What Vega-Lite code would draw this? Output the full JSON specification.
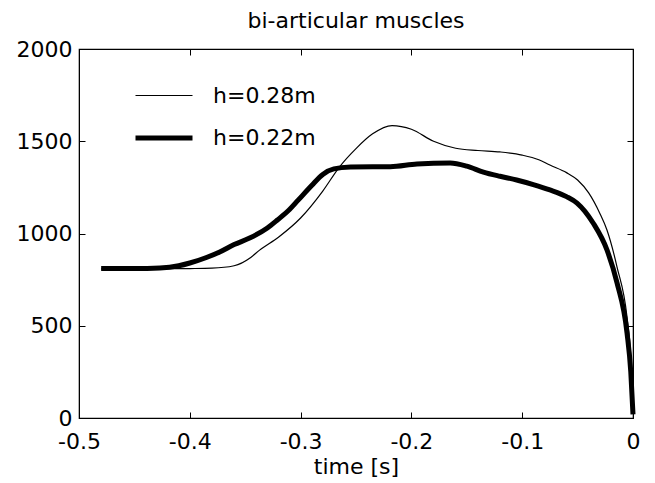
{
  "$schema": "https://vega.github.io/schema/vega-lite/v6.json",
  "autosize": "none",
  "width": 554,
  "height": 369,
  "padding": {"left": 79, "top": 49, "right": 22, "bottom": 65},
  "background": "white",
  "config": {
    "font": "DejaVu Sans",
    "view": {"stroke": "black", "strokeWidth": 1.2},
    "axis": {
      "grid": false,
      "domainColor": "black",
      "tickColor": "black",
      "labelColor": "black",
      "titleColor": "black",
      "labelFont": "DejaVu Sans",
      "titleFont": "DejaVu Sans",
      "labelFontSize": 22,
      "titleFontSize": 22,
      "titleFontWeight": "normal",
      "labelFlush": false,
      "labelOverlap": false,
      "tickSize": -6
    }
  },
  "title": {"text": "bi-articular muscles", "fontSize": 22, "fontWeight": "normal", "font": "DejaVu Sans", "color": "black", "anchor": "middle", "offset": 5},
  "data": {"values": [
    {"t": -0.48, "v": 808, "series": "h=0.28m"},
    {"t": -0.45, "v": 808, "series": "h=0.28m"},
    {"t": -0.42, "v": 809, "series": "h=0.28m"},
    {"t": -0.40, "v": 810, "series": "h=0.28m"},
    {"t": -0.38, "v": 812, "series": "h=0.28m"},
    {"t": -0.36, "v": 825, "series": "h=0.28m"},
    {"t": -0.345, "v": 870, "series": "h=0.28m"},
    {"t": -0.337, "v": 910, "series": "h=0.28m"},
    {"t": -0.32, "v": 980, "series": "h=0.28m"},
    {"t": -0.30, "v": 1084, "series": "h=0.28m"},
    {"t": -0.28, "v": 1230, "series": "h=0.28m"},
    {"t": -0.265, "v": 1360, "series": "h=0.28m"},
    {"t": -0.25, "v": 1460, "series": "h=0.28m"},
    {"t": -0.235, "v": 1540, "series": "h=0.28m"},
    {"t": -0.2175, "v": 1585, "series": "h=0.28m"},
    {"t": -0.20, "v": 1565, "series": "h=0.28m"},
    {"t": -0.18, "v": 1500, "series": "h=0.28m"},
    {"t": -0.16, "v": 1462, "series": "h=0.28m"},
    {"t": -0.14, "v": 1450, "series": "h=0.28m"},
    {"t": -0.12, "v": 1442, "series": "h=0.28m"},
    {"t": -0.10, "v": 1425, "series": "h=0.28m"},
    {"t": -0.085, "v": 1400, "series": "h=0.28m"},
    {"t": -0.075, "v": 1371, "series": "h=0.28m"},
    {"t": -0.06, "v": 1330, "series": "h=0.28m"},
    {"t": -0.05, "v": 1290, "series": "h=0.28m"},
    {"t": -0.04, "v": 1220, "series": "h=0.28m"},
    {"t": -0.03, "v": 1110, "series": "h=0.28m"},
    {"t": -0.0235, "v": 1019, "series": "h=0.28m"},
    {"t": -0.0144, "v": 818, "series": "h=0.28m"},
    {"t": -0.0054, "v": 547, "series": "h=0.28m"},
    {"t": -0.002, "v": 330, "series": "h=0.28m"},
    {"t": 0, "v": 30, "series": "h=0.28m"},
    {"t": -0.48, "v": 810, "series": "h=0.22m"},
    {"t": -0.45, "v": 810, "series": "h=0.22m"},
    {"t": -0.427, "v": 813, "series": "h=0.22m"},
    {"t": -0.41, "v": 825, "series": "h=0.22m"},
    {"t": -0.40, "v": 840, "series": "h=0.22m"},
    {"t": -0.385, "v": 870, "series": "h=0.22m"},
    {"t": -0.373, "v": 900, "series": "h=0.22m"},
    {"t": -0.36, "v": 940, "series": "h=0.22m"},
    {"t": -0.346, "v": 975, "series": "h=0.22m"},
    {"t": -0.33, "v": 1030, "series": "h=0.22m"},
    {"t": -0.321, "v": 1073, "series": "h=0.22m"},
    {"t": -0.31, "v": 1130, "series": "h=0.22m"},
    {"t": -0.302, "v": 1182, "series": "h=0.22m"},
    {"t": -0.29, "v": 1260, "series": "h=0.22m"},
    {"t": -0.28, "v": 1320, "series": "h=0.22m"},
    {"t": -0.27, "v": 1350, "series": "h=0.22m"},
    {"t": -0.255, "v": 1360, "series": "h=0.22m"},
    {"t": -0.235, "v": 1362, "series": "h=0.22m"},
    {"t": -0.219, "v": 1362, "series": "h=0.22m"},
    {"t": -0.195, "v": 1377, "series": "h=0.22m"},
    {"t": -0.165, "v": 1382, "series": "h=0.22m"},
    {"t": -0.15, "v": 1365, "series": "h=0.22m"},
    {"t": -0.135, "v": 1333, "series": "h=0.22m"},
    {"t": -0.12, "v": 1310, "series": "h=0.22m"},
    {"t": -0.105, "v": 1290, "series": "h=0.22m"},
    {"t": -0.09, "v": 1265, "series": "h=0.22m"},
    {"t": -0.075, "v": 1236, "series": "h=0.22m"},
    {"t": -0.06, "v": 1200, "series": "h=0.22m"},
    {"t": -0.0505, "v": 1165, "series": "h=0.22m"},
    {"t": -0.036, "v": 1057, "series": "h=0.22m"},
    {"t": -0.0235, "v": 911, "series": "h=0.22m"},
    {"t": -0.0144, "v": 732, "series": "h=0.22m"},
    {"t": -0.0054, "v": 461, "series": "h=0.22m"},
    {"t": -0.002, "v": 250, "series": "h=0.22m"},
    {"t": 0, "v": 20, "series": "h=0.22m"}
  ]},
  "layer": [
    {
      "mark": {"type": "line", "color": "black", "interpolate": "monotone"},
      "encoding": {
        "x": {"field": "t", "type": "quantitative", "scale": {"domain": [-0.5, 0], "nice": false},
          "axis": {"values": [-0.5, -0.4, -0.3, -0.2, -0.1, 0], "title": "time [s]", "labelPadding": 19, "titlePadding": 4,
            "labelExpr": "datum.value == 0 ? '0' : '-' + format(abs(datum.value), '.1f')"}},
        "y": {"field": "v", "type": "quantitative", "scale": {"domain": [0, 2000], "nice": false},
          "axis": {"values": [0, 500, 1000, 1500, 2000], "title": null, "labelPadding": 13, "format": "d"}},
        "strokeWidth": {"field": "series", "type": "nominal",
          "scale": {"domain": ["h=0.28m", "h=0.22m"], "range": [1.2, 5]},
          "legend": {"orient": "none", "legendX": 54, "legendY": 17, "title": null, "symbolType": "stroke",
            "symbolSize": 3249, "symbolStrokeColor": "black", "labelFontSize": 22, "labelFont": "DejaVu Sans",
            "labelColor": "black", "labelOffset": 18, "rowPadding": -10, "padding": 0}}
      }
    },
    {
      "mark": {"type": "line", "opacity": 0},
      "encoding": {
        "x": {"field": "t", "type": "quantitative", "axis": {"orient": "top", "values": [-0.5, -0.4, -0.3, -0.2, -0.1, 0], "labels": false, "title": null}},
        "y": {"field": "v", "type": "quantitative", "axis": {"orient": "right", "values": [0, 500, 1000, 1500, 2000], "labels": false, "title": null}},
        "detail": {"field": "series"}
      }
    }
  ],
  "resolve": {"axis": {"x": "independent", "y": "independent"}}
}
